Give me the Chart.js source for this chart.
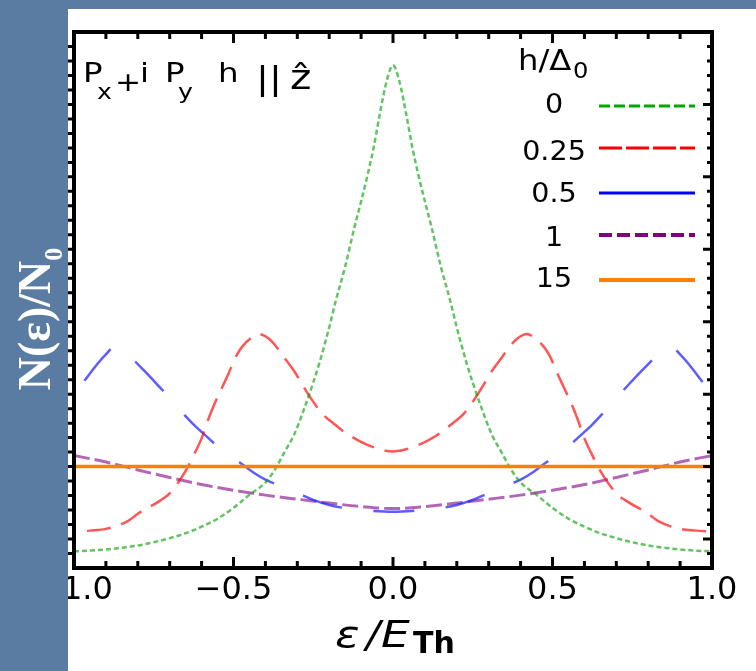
<!DOCTYPE html>
<html>
<head>
<meta charset="utf-8">
<script src="https://cdn.jsdelivr.net/npm/chart.js@4.4.1/dist/chart.umd.min.js"></script>
<style>
  html, body { margin: 0; padding: 0; background: #ffffff; }
  #wrap { position: relative; width: 756px; height: 671px; overflow: hidden; }
  canvas { display: block; }
</style>
</head>
<body>
<div id="wrap"><canvas id="dos" width="756" height="671"></canvas></div>
<script>
// Field strengths h/Δ0 shown in the legend
const fieldLabels = ['0', '0.25', '0.5', '1', '15'];
// Energy axis tick values (ε/E_Th)
const xTickValues = [-1, -0.5, 0, 0.5, 1];

// h/Δ0 = 0
const xH0 = [-1, -0.95, -0.9, -0.85, -0.8, -0.75, -0.7, -0.65, -0.6, -0.55, -0.5, -0.45, -0.4, -0.37, -0.34, -0.31, -0.28, -0.25, -0.23, -0.2, -0.18, -0.15, -0.12, -0.1, -0.08, -0.06, -0.04, -0.02,
  0, 0.02, 0.04, 0.06, 0.08, 0.1, 0.12, 0.15, 0.18, 0.2, 0.23, 0.25, 0.28, 0.31, 0.34, 0.37, 0.4, 0.45, 0.5, 0.55, 0.6, 0.65, 0.7, 0.75, 0.8, 0.85, 0.9, 0.95, 1];
const yH0 = [0.415, 0.42, 0.428, 0.44, 0.455, 0.478, 0.506, 0.54, 0.585, 0.64, 0.715, 0.805, 0.89, 0.98, 1.10, 1.22, 1.39, 1.58, 1.72, 1.96, 2.14, 2.38, 2.66, 2.83, 3.01, 3.21, 3.45, 3.66,
  3.77, 3.66, 3.45, 3.21, 3.01, 2.83, 2.66, 2.38, 2.14, 1.96, 1.72, 1.58, 1.39, 1.22, 1.10, 0.98, 0.89, 0.805, 0.715, 0.64, 0.585, 0.54, 0.506, 0.478, 0.455, 0.44, 0.428, 0.42, 0.415];

// h/Δ0 = 0.25
const xH25 = [-1, -0.95, -0.9, -0.83, -0.8, -0.73, -0.7, -0.65, -0.62, -0.6, -0.58, -0.56, -0.535, -0.52, -0.49, -0.47, -0.44, -0.42, -0.4, -0.38, -0.34, -0.31, -0.28, -0.26, -0.22, -0.19, -0.15, -0.08,
  0, 0.08, 0.15, 0.19, 0.22, 0.26, 0.28, 0.31, 0.34, 0.38, 0.4, 0.42, 0.44, 0.47, 0.49, 0.52, 0.535, 0.56, 0.58, 0.6, 0.62, 0.65, 0.7, 0.73, 0.8, 0.83, 0.9, 0.95, 1];
const yH25 = [0.55, 0.558, 0.57, 0.625, 0.675, 0.765, 0.815, 0.97, 1.10, 1.195, 1.32, 1.43, 1.55, 1.62, 1.77, 1.835, 1.895, 1.915, 1.90, 1.865, 1.75, 1.66, 1.55, 1.48, 1.36, 1.305, 1.235, 1.15,
  1.105, 1.15, 1.235, 1.305, 1.36, 1.48, 1.55, 1.66, 1.75, 1.865, 1.90, 1.915, 1.895, 1.835, 1.77, 1.62, 1.55, 1.43, 1.32, 1.195, 1.10, 0.97, 0.815, 0.765, 0.675, 0.625, 0.57, 0.558, 0.55];

// h/Δ0 = 0.5
const xH5 = [-1, -0.97, -0.93, -0.9, -0.87, -0.84, -0.81, -0.77, -0.73, -0.69, -0.655, -0.62, -0.58, -0.54, -0.49, -0.44, -0.4, -0.35, -0.29, -0.25, -0.2, -0.14, -0.07,
  0, 0.07, 0.14, 0.2, 0.25, 0.29, 0.35, 0.4, 0.44, 0.49, 0.54, 0.58, 0.62, 0.655, 0.69, 0.73, 0.77, 0.81, 0.84, 0.87, 0.9, 0.93, 0.97, 1];
const yH5 = [1.50, 1.585, 1.70, 1.775, 1.83, 1.805, 1.73, 1.64, 1.545, 1.45, 1.36, 1.28, 1.20, 1.12, 1.045, 0.963, 0.91, 0.864, 0.808, 0.77, 0.735, 0.71, 0.695,
  0.688, 0.695, 0.71, 0.735, 0.77, 0.808, 0.864, 0.91, 0.963, 1.045, 1.12, 1.20, 1.28, 1.36, 1.45, 1.545, 1.64, 1.73, 1.805, 1.83, 1.775, 1.70, 1.585, 1.50];

// h/Δ0 = 1
const xH1 = [-1, -0.9, -0.8, -0.7, -0.6, -0.5, -0.4, -0.3, -0.2, -0.1, 0, 0.1, 0.2, 0.3, 0.4, 0.5, 0.6, 0.7, 0.8, 0.9, 1];
const yH1 = [1.076, 1.032, 0.977, 0.925, 0.876, 0.837, 0.803, 0.775, 0.748, 0.724, 0.71, 0.724, 0.748, 0.775, 0.803, 0.837, 0.876, 0.925, 0.977, 1.032, 1.076];

// h/Δ0 = 15 (normal state)
const xH15 = [-1, 1];
const yH15 = [1, 1];

const pts = (xs, ys) => xs.map((x, i) => ({ x, y: ys[i] }));

const seriesStyle = [
  { x: xH0,  y: yH0,  color: 'rgba(0,160,0,0.62)',   width: 2.5, dash: [5, 3],     dashOffset: 0,    order: 1, key: '#00a800', legendDash: [11, 4], legendWidth: 3 },
  { x: xH25, y: yH25, color: 'rgba(255,20,20,0.72)', width: 2.5, dash: [24, 11],   dashOffset: 22,   order: 2, key: '#ff0000', legendDash: [23, 4], legendWidth: 3 },
  { x: xH5,  y: yH5,  color: 'rgba(30,30,255,0.72)', width: 2.5, dash: [41, 31.5], dashOffset: 55.5, order: 3, key: '#0000ff', legendDash: [],      legendWidth: 3 },
  { x: xH1,  y: yH1,  color: 'rgba(128,0,128,0.6)',  width: 3,   dash: [16, 5],    dashOffset: 0,    order: 4, key: '#800080', legendDash: [13, 5], legendWidth: 4 },
  { x: xH15, y: yH15, color: '#ff8000',              width: 3.5, dash: [],         dashOffset: 0,    order: 0, key: '#ff8000', legendDash: [],      legendWidth: 4 }
];

function txt(ctx, s, x, yb, font, opt = {}) {
  const sx = opt.sx || 1;
  ctx.save();
  ctx.font = font;
  ctx.fillStyle = opt.color || '#000';
  ctx.textBaseline = 'alphabetic';
  ctx.textAlign = 'left';
  const w = ctx.measureText(s).width * sx;
  const x0 = opt.align === 'center' ? x - w / 2 : x;
  ctx.translate(x0, yb);
  ctx.scale(sx, 1);
  ctx.fillText(s, 0, 0);
  ctx.restore();
  return x0 + w;
}

const SLIDE_BLUE = '#5a7ca3';

const decorations = {
  id: 'decorations',
  afterDatasetsDraw(chart) {
    const { ctx, chartArea: a, scales: { x, y } } = chart;
    ctx.save();

    // frame tick marks
    ctx.strokeStyle = '#000';
    ctx.lineWidth = 3;
    ctx.beginPath();
    for (let k = -9; k <= 9; k++) {
      const px = x.getPixelForValue(k / 10);
      const major = k % 5 === 0;
      ctx.moveTo(px, a.top); ctx.lineTo(px, a.top + (major ? 11 : 7));
      ctx.moveTo(px, a.bottom); ctx.lineTo(px, a.bottom - (major ? 11 : 7));
    }
    for (let k = 4; k <= 39; k++) {
      const py = y.getPixelForValue(k / 10);
      const major = k % 5 === 0;
      ctx.moveTo(a.right, py); ctx.lineTo(a.right - (major ? 9 : 5), py);
      ctx.moveTo(a.left, py); ctx.lineTo(a.left - (major ? 9 : 6), py);
    }
    ctx.stroke();
    ctx.lineWidth = 4;
    ctx.strokeRect(a.left, a.top, a.right - a.left, a.bottom - a.top);

    // panel title
    const F = '26px "DejaVu Sans"';
    const FS = '21px "DejaVu Sans"';
    txt(ctx, 'P', 83, 82, F, { sx: 1.25 });
    txt(ctx, 'x', 97, 99, FS, { sx: 1.2 });
    txt(ctx, '+', 115, 91, F, { sx: 1.2 });
    txt(ctx, 'i', 140, 82, F, { sx: 1.25 });
    txt(ctx, 'P', 165, 82, F, { sx: 1.25 });
    txt(ctx, 'y', 178, 99, FS, { sx: 1.2 });
    txt(ctx, 'h', 218, 82, F, { sx: 1.25 });
    txt(ctx, '||', 256, 89, '32px "DejaVu Sans"', { sx: 1.2 });
    txt(ctx, 'ẑ', 290, 89, '34px "DejaVu Sans"', { sx: 1.2 });

    // legend
    txt(ctx, 'h/Δ', 518, 70, '28px "DejaVu Sans"', { sx: 1.15 });
    txt(ctx, '0', 573, 78, '22px "DejaVu Sans"', { sx: 1.1 });
    const labelBase = [113, 160, 201.5, 245.5, 287];
    const lineY = [106, 148, 193, 235, 280];
    seriesStyle.forEach((s, i) => {
      txt(ctx, fieldLabels[i], 554, labelBase[i], '26px "DejaVu Sans"', { sx: 1.1, align: 'center' });
      ctx.save();
      ctx.strokeStyle = s.key;
      ctx.lineWidth = s.legendWidth;
      ctx.setLineDash(s.legendDash);
      ctx.beginPath();
      ctx.moveTo(599, lineY[i]);
      ctx.lineTo(695, lineY[i]);
      ctx.stroke();
      ctx.restore();
    });

    // energy axis title ε/E_Th
    const FI = 'italic 38px "DejaVu Sans"';
    txt(ctx, 'ε', 335, 647, FI, { sx: 1.2 });
    txt(ctx, '/', 366, 647, FI, { sx: 1.1 });
    txt(ctx, 'E', 381, 647, FI, { sx: 1.2 });
    txt(ctx, 'Th', 413, 653, 'bold 30px "DejaVu Sans"');

    // slide background strips around the plot panel
    ctx.fillStyle = SLIDE_BLUE;
    ctx.fillRect(0, 0, 68, chart.height);
    ctx.fillRect(0, 0, chart.width, 9);

    // density-of-states axis title, white on the slide background
    ctx.save();
    ctx.translate(38, 319);
    ctx.rotate(-Math.PI / 2);
    ctx.fillStyle = '#ffffff';
    ctx.textBaseline = 'alphabetic';
    const fMain = 'bold 46px "Liberation Serif"';
    const fSub = 'bold 26px "Liberation Serif"';
    ctx.font = fMain;
    const wMain = ctx.measureText('N(ε)/N').width;
    ctx.font = fSub;
    const wSub = ctx.measureText('0').width;
    const start = -(wMain + wSub) / 2;
    ctx.font = fMain;
    ctx.fillText('N(ε)/N', start, 12);
    ctx.font = fSub;
    ctx.fillText('0', start + wMain, 24);
    ctx.restore();

    ctx.restore();
  }
};

new Chart(document.getElementById('dos'), {
  type: 'line',
  data: {
    datasets: seriesStyle.map((s, i) => ({
      label: 'h/Δ0 = ' + fieldLabels[i],
      data: pts(s.x, s.y),
      borderColor: s.color,
      borderWidth: s.width,
      borderDash: s.dash,
      borderDashOffset: s.dashOffset,
      pointRadius: 0,
      fill: false,
      cubicInterpolationMode: 'monotone',
      order: s.order
    }))
  },
  options: {
    responsive: false,
    animation: false,
    devicePixelRatio: 1,
    layout: { padding: { left: 74, top: 32, right: 44, bottom: 0 } },
    plugins: { legend: { display: false }, tooltip: { enabled: false } },
    scales: {
      x: {
        type: 'linear',
        min: -1,
        max: 1,
        afterBuildTicks: (scale) => { scale.ticks = xTickValues.map(v => ({ value: v })); },
        afterFit: (scale) => { scale.height = 103; },
        grid: { display: false, drawTicks: false },
        border: { display: false },
        ticks: {
          maxRotation: 0,
          autoSkip: false,
          padding: 3,
          color: '#000',
          font: { family: 'DejaVu Sans', size: 32 },
          callback: (v) => (v < 0 ? '\u2212' : '') + Math.abs(v).toFixed(1)
        }
      },
      y: {
        type: 'linear',
        min: 0.3,
        max: 4.0,
        display: false
      }
    }
  },
  plugins: [decorations]
});
</script>
</body>
</html>
